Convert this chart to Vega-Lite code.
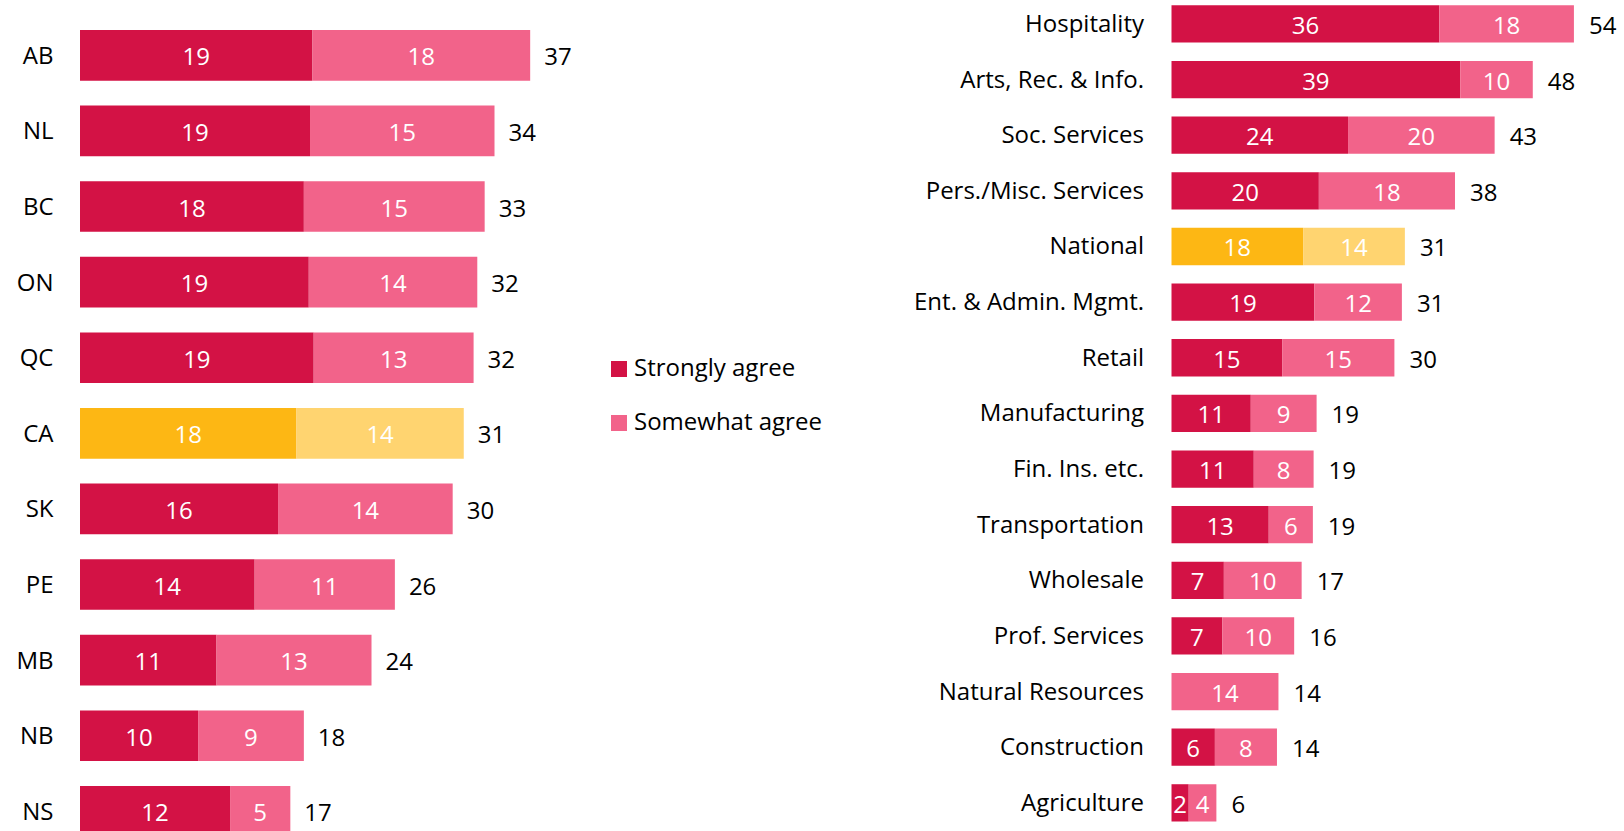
{
  "$schema": "https://vega.github.io/schema/vega-lite/v6.json",
  "width": 1624,
  "height": 831,
  "padding": 0,
  "autosize": {"type": "none"},
  "background": "white",
  "config": {
    "font": "Open Sans",
    "view": {"stroke": null},
    "axis": {"labelFont": "Open Sans", "labelFontSize": 24, "labelColor": "#000000", "labelLimit": 500, "ticks": false, "tickSize": 0, "domain": false, "grid": false, "title": null},
    "legend": {"labelFont": "Open Sans", "labelFontSize": 24, "labelColor": "#000000", "labelLimit": 500}
  },
  "datasets": {
    "provinces": [
      {"region": "AB", "type": "Strongly agree", "series": "Strongly agree", "value": 18.9},
      {"region": "AB", "type": "Somewhat agree", "series": "Somewhat agree", "value": 17.7},
      {"region": "NL", "type": "Strongly agree", "series": "Strongly agree", "value": 18.7},
      {"region": "NL", "type": "Somewhat agree", "series": "Somewhat agree", "value": 15.0},
      {"region": "BC", "type": "Strongly agree", "series": "Strongly agree", "value": 18.2},
      {"region": "BC", "type": "Somewhat agree", "series": "Somewhat agree", "value": 14.7},
      {"region": "ON", "type": "Strongly agree", "series": "Strongly agree", "value": 18.6},
      {"region": "ON", "type": "Somewhat agree", "series": "Somewhat agree", "value": 13.7},
      {"region": "QC", "type": "Strongly agree", "series": "Strongly agree", "value": 19.0},
      {"region": "QC", "type": "Somewhat agree", "series": "Somewhat agree", "value": 13.0},
      {"region": "CA", "type": "Strongly agree", "series": "Strongly agree (national)", "value": 17.6},
      {"region": "CA", "type": "Somewhat agree", "series": "Somewhat agree (national)", "value": 13.6},
      {"region": "SK", "type": "Strongly agree", "series": "Strongly agree", "value": 16.1},
      {"region": "SK", "type": "Somewhat agree", "series": "Somewhat agree", "value": 14.2},
      {"region": "PE", "type": "Strongly agree", "series": "Strongly agree", "value": 14.2},
      {"region": "PE", "type": "Somewhat agree", "series": "Somewhat agree", "value": 11.4},
      {"region": "MB", "type": "Strongly agree", "series": "Strongly agree", "value": 11.1},
      {"region": "MB", "type": "Somewhat agree", "series": "Somewhat agree", "value": 12.6},
      {"region": "NB", "type": "Strongly agree", "series": "Strongly agree", "value": 9.6},
      {"region": "NB", "type": "Somewhat agree", "series": "Somewhat agree", "value": 8.6},
      {"region": "NS", "type": "Strongly agree", "series": "Strongly agree", "value": 12.2},
      {"region": "NS", "type": "Somewhat agree", "series": "Somewhat agree", "value": 4.9}
    ],
    "industries": [
      {"sector": "Hospitality", "type": "Strongly agree", "series": "Strongly agree", "value": 35.8},
      {"sector": "Hospitality", "type": "Somewhat agree", "series": "Somewhat agree", "value": 18.0},
      {"sector": "Arts, Rec. & Info.", "type": "Strongly agree", "series": "Strongly agree", "value": 38.6},
      {"sector": "Arts, Rec. & Info.", "type": "Somewhat agree", "series": "Somewhat agree", "value": 9.7},
      {"sector": "Soc. Services", "type": "Strongly agree", "series": "Strongly agree", "value": 23.6},
      {"sector": "Soc. Services", "type": "Somewhat agree", "series": "Somewhat agree", "value": 19.6},
      {"sector": "Pers./Misc. Services", "type": "Strongly agree", "series": "Strongly agree", "value": 19.7},
      {"sector": "Pers./Misc. Services", "type": "Somewhat agree", "series": "Somewhat agree", "value": 18.2},
      {"sector": "National", "type": "Strongly agree", "series": "Strongly agree (national)", "value": 17.6},
      {"sector": "National", "type": "Somewhat agree", "series": "Somewhat agree (national)", "value": 13.6},
      {"sector": "Ent. & Admin. Mgmt.", "type": "Strongly agree", "series": "Strongly agree", "value": 19.1},
      {"sector": "Ent. & Admin. Mgmt.", "type": "Somewhat agree", "series": "Somewhat agree", "value": 11.7},
      {"sector": "Retail", "type": "Strongly agree", "series": "Strongly agree", "value": 14.8},
      {"sector": "Retail", "type": "Somewhat agree", "series": "Somewhat agree", "value": 15.0},
      {"sector": "Manufacturing", "type": "Strongly agree", "series": "Strongly agree", "value": 10.6},
      {"sector": "Manufacturing", "type": "Somewhat agree", "series": "Somewhat agree", "value": 8.8},
      {"sector": "Fin. Ins. etc.", "type": "Strongly agree", "series": "Strongly agree", "value": 11.0},
      {"sector": "Fin. Ins. etc.", "type": "Somewhat agree", "series": "Somewhat agree", "value": 8.0},
      {"sector": "Transportation", "type": "Strongly agree", "series": "Strongly agree", "value": 13.0},
      {"sector": "Transportation", "type": "Somewhat agree", "series": "Somewhat agree", "value": 5.9},
      {"sector": "Wholesale", "type": "Strongly agree", "series": "Strongly agree", "value": 7.0},
      {"sector": "Wholesale", "type": "Somewhat agree", "series": "Somewhat agree", "value": 10.4},
      {"sector": "Prof. Services", "type": "Strongly agree", "series": "Strongly agree", "value": 6.8},
      {"sector": "Prof. Services", "type": "Somewhat agree", "series": "Somewhat agree", "value": 9.6},
      {"sector": "Natural Resources", "type": "Somewhat agree", "series": "Somewhat agree", "value": 14.3},
      {"sector": "Construction", "type": "Strongly agree", "series": "Strongly agree", "value": 5.8},
      {"sector": "Construction", "type": "Somewhat agree", "series": "Somewhat agree", "value": 8.3},
      {"sector": "Agriculture", "type": "Strongly agree", "series": "Strongly agree", "value": 2.3},
      {"sector": "Agriculture", "type": "Somewhat agree", "series": "Somewhat agree", "value": 3.7}
    ]
  },
  "layer": [
    {
      "data": {"name": "provinces"},
      "transform": [
        {"stack": "value", "groupby": ["region"], "sort": [{"field": "type", "order": "descending"}], "as": ["v0", "v1"]}
      ],
      "encoding": {
        "y": {
          "field": "region", "type": "nominal",
          "scale": {"domain": ["AB", "NL", "BC", "ON", "QC", "CA", "SK", "PE", "MB", "NB", "NS"], "range": [30, 836.65], "paddingInner": 0.33, "paddingOuter": 0},
          "axis": {"orient": "left", "offset": -80, "labelPadding": 27, "labelOffset": 1.5}
        }
      },
      "layer": [
        {
          "mark": {"type": "bar", "clip": true},
          "encoding": {
            "x": {"field": "v0", "type": "quantitative", "scale": {"domain": [0, 42], "range": [80, 596.6], "nice": false, "zero": true}, "axis": null},
            "x2": {"field": "v1"},
            "color": {
              "field": "series", "type": "nominal",
              "scale": {"domain": ["Strongly agree", "Somewhat agree", "Strongly agree (national)", "Somewhat agree (national)"], "range": ["#D31245", "#F2638A", "#FDB714", "#FFD470"]},
              "legend": {"values": ["Strongly agree", "Somewhat agree"], "orient": "none", "legendX": 607, "legendY": 357, "title": null, "symbolType": "square", "symbolSize": 256, "symbolStrokeWidth": 0, "symbolOpacity": 1, "labelOffset": 3, "rowPadding": 30, "padding": 0, "labelLimit": 500}
            }
          }
        },
        {
          "transform": [{"fold": ["v0", "v1"], "as": ["edge", "pos"]}],
          "mark": {"type": "text", "color": "white", "fontSize": 24, "font": "Open Sans", "align": "center", "baseline": "middle", "dy": 3},
          "encoding": {
            "x": {"aggregate": "mean", "field": "pos", "type": "quantitative", "stack": null},
            "detail": {"field": "type", "type": "nominal"},
            "text": {"aggregate": "max", "field": "value", "type": "quantitative", "format": ".0f"}
          }
        },
        {
          "mark": {"type": "text", "color": "#000000", "fontSize": 24, "font": "Open Sans", "align": "left", "baseline": "middle", "dx": 14, "dy": 3},
          "encoding": {
            "x": {"aggregate": "sum", "field": "value", "type": "quantitative", "stack": null},
            "text": {"aggregate": "sum", "field": "value", "type": "quantitative", "format": ".0f"}
          }
        }
      ]
    },
    {
      "data": {"name": "industries"},
      "transform": [
        {"stack": "value", "groupby": ["sector"], "sort": [{"field": "type", "order": "descending"}], "as": ["v0", "v1"]}
      ],
      "encoding": {
        "y": {
          "field": "sector", "type": "nominal",
          "scale": {"domain": ["Hospitality", "Arts, Rec. & Info.", "Soc. Services", "Pers./Misc. Services", "National", "Ent. & Admin. Mgmt.", "Retail", "Manufacturing", "Fin. Ins. etc.", "Transportation", "Wholesale", "Prof. Services", "Natural Resources", "Construction", "Agriculture"], "range": [5.3, 821.5], "paddingInner": 0.33, "paddingOuter": 0},
          "axis": {"orient": "left", "offset": -1171.5, "labelPadding": 28, "labelOffset": 1, "labelLimit": 500}
        }
      },
      "layer": [
        {
          "mark": {"type": "bar", "clip": true},
          "encoding": {
            "x": {"field": "v0", "type": "quantitative", "scale": {"domain": [0, 60], "range": [1171.5, 1620.3], "nice": false, "zero": true}, "axis": null},
            "x2": {"field": "v1"},
            "color": {
              "field": "series", "type": "nominal",
              "scale": {"domain": ["Strongly agree", "Somewhat agree", "Strongly agree (national)", "Somewhat agree (national)"], "range": ["#D31245", "#F2638A", "#FDB714", "#FFD470"]},
              "legend": {"values": ["Strongly agree", "Somewhat agree"], "orient": "none", "legendX": 607, "legendY": 357, "title": null, "symbolType": "square", "symbolSize": 256, "symbolStrokeWidth": 0, "symbolOpacity": 1, "labelOffset": 3, "rowPadding": 30, "padding": 0, "labelLimit": 500}
            }
          }
        },
        {
          "transform": [{"fold": ["v0", "v1"], "as": ["edge", "pos"]}],
          "mark": {"type": "text", "color": "white", "fontSize": 24, "font": "Open Sans", "align": "center", "baseline": "middle", "dy": 3},
          "encoding": {
            "x": {"aggregate": "mean", "field": "pos", "type": "quantitative", "stack": null},
            "detail": {"field": "type", "type": "nominal"},
            "text": {"aggregate": "max", "field": "value", "type": "quantitative", "format": ".0f"}
          }
        },
        {
          "mark": {"type": "text", "color": "#000000", "fontSize": 24, "font": "Open Sans", "align": "left", "baseline": "middle", "dx": 15, "dy": 3},
          "encoding": {
            "x": {"aggregate": "sum", "field": "value", "type": "quantitative", "stack": null},
            "text": {"aggregate": "sum", "field": "value", "type": "quantitative", "format": ".0f"}
          }
        }
      ]
    }
  ],
  "resolve": {"scale": {"x": "independent", "y": "independent"}, "axis": {"y": "independent"}}
}
